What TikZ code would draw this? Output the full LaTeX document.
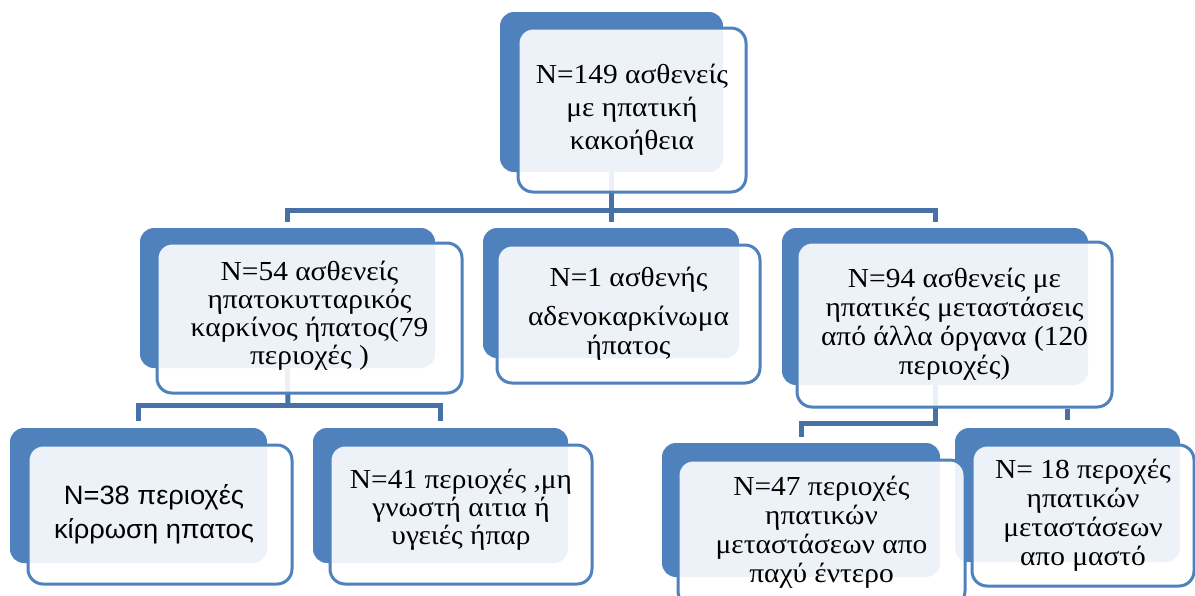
\documentclass[tikz,border=0pt]{standalone}
\usepackage{fontspec}
\setmainfont{Liberation Serif}[FakeStretch=1.07]
\newfontfamily\grsans{Liberation Sans}[FakeStretch=1.03]
\definecolor{accent}{RGB}{79,129,189}
\definecolor{connc}{RGB}{70,112,166}
\begin{document}
\begin{tikzpicture}[x=1pt,y=-1pt,
  backbox/.style={draw=none,fill=accent,rounded corners=14pt,inner sep=0pt},
  frontbox/.style={draw=accent,line width=3pt,fill=white,fill opacity=0.9,text opacity=1,
    rounded corners=15pt,inner sep=0pt,align=center,font={\fontsize{27.5}{29}\selectfont}},
  conn/.style={draw=connc,line width=5pt}]
\useasboundingbox (0,0) rectangle (1195,595);
\fill[white] (0,0) rectangle (1195,595);
% back boxes
\node[backbox,minimum width=223pt,minimum height=160pt] (topB) at (611.5,92) {};
\node[backbox,minimum width=295pt,minimum height=140pt] (n54B) at (287.5,298) {};
\node[backbox,minimum width=256pt,minimum height=130pt] (n1B) at (611,293) {};
\node[backbox,minimum width=306pt,minimum height=157pt] (n94B) at (935,306.5) {};
\node[backbox,minimum width=257pt,minimum height=135pt] (n38B) at (138.5,495.5) {};
\node[backbox,minimum width=255pt,minimum height=135pt] (n41B) at (440.5,495.5) {};
\node[backbox,minimum width=278pt,minimum height=134pt] (n47B) at (801,510) {};
\node[backbox,minimum width=225pt,minimum height=134pt] (n18B) at (1067.5,495) {};
% connectors
\coordinate (b1) at (611,210);
\coordinate (b2) at (288,405);
\coordinate (b3) at (935,423);
\draw[conn,shorten >=6pt] (topB.south) -- (topB.south |- n1B.north);
\draw[conn,shorten <=6pt,shorten >=6pt] (n54B.north) |- (b1) -| (n94B.north);
\draw[conn] (n54B.south) -- (b2);
\draw[conn,shorten <=7pt,shorten >=7pt] (n38B.north) |- (b2) -| (n41B.north);
\draw[conn,shorten >=6pt] (n94B.south) -- (b3) -| (n47B.north);
% front boxes
\node[frontbox,minimum width=228pt,minimum height=164pt,font={\fontsize{27.5}{33}\selectfont}] (topF) at (632,110)
  {N=149 ασθενείς\\με ηπατική\\κακοήθεια};
\node[frontbox,minimum width=305pt,minimum height=150pt,font={\fontsize{27.5}{28}\selectfont}] (n54F) at (309.5,318)
  {N=54 ασθενείς\\ηπατοκυτταρικός\\καρκίνος ήπατος(79\\περιοχές )\\[-18pt]};
\node[frontbox,minimum width=263pt,minimum height=138pt] (n1F) at (628.5,314)
  {N=1 ασθενής\\[10pt]αδενοκαρκίνωμα\\ήπατος};
\node[frontbox,minimum width=315pt,minimum height=165pt] (n94F) at (954.5,324.5)
  {N=94 ασθενείς με\\ηπατικές μεταστάσεις\\από άλλα όργανα (120\\περιοχές)};
\node[frontbox,minimum width=264pt,minimum height=139pt,font={\grsans\fontsize{26.5}{34}\selectfont}] (n38F) at (160,514.5)
  {\hspace*{-12pt}N=38 περιοχές\\\hspace*{-12pt}κίρρωση ηπατος};
\node[frontbox,minimum width=262pt,minimum height=139pt,font={\fontsize{27.5}{28}\selectfont}] (n41F) at (461,514.5)
  {N=41 περιοχές ,μη\\γνωστή αιτια ή\\υγειές ήπαρ\\[-12pt]};
\node[frontbox,minimum width=287pt,minimum height=146pt] (n47F) at (821.5,533)
  {N=47 περιοχές\\ηπατικών\\μεταστάσεων απο\\παχύ έντερο\\[-21pt]};
\node[frontbox,minimum width=222pt,minimum height=141pt] (n18F) at (1083,515.5)
  {N= 18 περοχές\\ηπατικών\\μεταστάσεων\\απο μαστό};
\draw[conn,shorten <=8pt] (n18B.north) -- (n18B.north |- n94F.south);
\end{tikzpicture}
\end{document}
